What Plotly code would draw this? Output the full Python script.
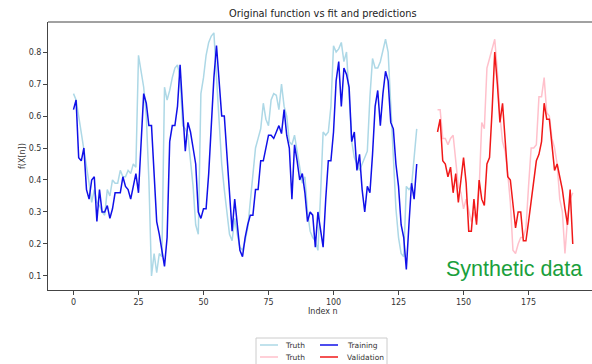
import numpy as np
import plotly.graph_objects as go

# Truth and fitted values on the training window (index 0..132)
truth_train = [0.67, 0.65, 0.60, 0.55, 0.50, 0.44, 0.39, 0.33, 0.37, 0.33,
               0.32, 0.30, 0.29, 0.37, 0.35, 0.40, 0.39, 0.39, 0.43, 0.41,
               0.41, 0.43, 0.42, 0.45, 0.44, 0.79, 0.74, 0.69, 0.60, 0.40,
               0.10, 0.17, 0.11, 0.17, 0.16, 0.69, 0.65, 0.68, 0.72, 0.75,
               0.76, 0.72, 0.57, 0.56, 0.54, 0.47, 0.38, 0.26, 0.23, 0.67,
               0.72, 0.79, 0.83, 0.85, 0.86, 0.72, 0.58, 0.45, 0.37, 0.30,
               0.23, 0.21, 0.28, 0.23, 0.19, 0.18, 0.21, 0.25, 0.33, 0.42,
               0.50, 0.53, 0.56, 0.64, 0.59, 0.57, 0.65, 0.67, 0.665, 0.62,
               0.70, 0.63, 0.60, 0.52, 0.51, 0.54, 0.49, 0.44, 0.39, 0.41,
               0.30, 0.24, 0.22, 0.21, 0.18, 0.35, 0.55, 0.54, 0.55, 0.63,
               0.82, 0.80, 0.81, 0.83, 0.77, 0.80, 0.64, 0.52, 0.47, 0.45,
               0.43, 0.45, 0.47, 0.49, 0.66, 0.78, 0.75, 0.75, 0.77, 0.81,
               0.84, 0.80, 0.62, 0.44, 0.31, 0.22, 0.17, 0.16, 0.38, 0.37,
               0.38, 0.47, 0.56]
training = [0.62, 0.65, 0.47, 0.46, 0.50, 0.37, 0.34, 0.40, 0.41, 0.27,
            0.37, 0.30, 0.30, 0.32, 0.28, 0.31, 0.36, 0.36, 0.36, 0.41,
            0.38, 0.37, 0.34, 0.38, 0.42, 0.36, 0.52, 0.67, 0.64, 0.57,
            0.57, 0.42, 0.27, 0.23, 0.18, 0.13, 0.22, 0.52, 0.57, 0.57,
            0.63, 0.76, 0.62, 0.49, 0.58, 0.55, 0.50, 0.45, 0.30, 0.28,
            0.31, 0.31, 0.42, 0.58, 0.72, 0.82, 0.70, 0.60, 0.60, 0.49,
            0.37, 0.24, 0.34, 0.25, 0.18, 0.16, 0.22, 0.26, 0.29, 0.29,
            0.37, 0.37, 0.46, 0.46, 0.50, 0.54, 0.54, 0.53, 0.55, 0.57,
            0.545, 0.62, 0.54, 0.50, 0.34, 0.51, 0.46, 0.40, 0.42, 0.36,
            0.27, 0.30, 0.29, 0.19, 0.30, 0.25, 0.19, 0.34, 0.46, 0.46,
            0.55, 0.71, 0.77, 0.63, 0.75, 0.73, 0.69, 0.52, 0.55, 0.43,
            0.48, 0.37, 0.30, 0.38, 0.36, 0.48, 0.63, 0.68, 0.57, 0.67,
            0.74, 0.71, 0.58, 0.56, 0.45, 0.38, 0.26, 0.22, 0.12, 0.26,
            0.39, 0.34, 0.45]

# Truth and predictions on the validation window (index 140..192)
val_start = 140
truth_val = [0.62, 0.62, 0.53, 0.53, 0.51, 0.53, 0.54, 0.45, 0.38, 0.36,
             0.31, 0.34, 0.30, 0.27, 0.30, 0.27, 0.37, 0.58, 0.56, 0.75,
             0.78, 0.81, 0.84, 0.74, 0.60, 0.52, 0.49, 0.42, 0.33, 0.18,
             0.17, 0.20, 0.22, 0.22, 0.25, 0.38, 0.50, 0.50, 0.51, 0.66,
             0.66, 0.72, 0.61, 0.60, 0.53, 0.50, 0.45, 0.34, 0.30, 0.17,
             0.28, 0.34, 0.36]
validation = [0.55, 0.59, 0.46, 0.45, 0.41, 0.44, 0.36, 0.42, 0.33, 0.40,
              0.47, 0.39, 0.24, 0.24, 0.34, 0.26, 0.40, 0.34, 0.32, 0.45,
              0.47, 0.62, 0.80, 0.70, 0.58, 0.64, 0.52, 0.41, 0.40, 0.33,
              0.25, 0.30, 0.30, 0.21, 0.21, 0.27, 0.33, 0.40, 0.46, 0.48,
              0.52, 0.64, 0.59, 0.59, 0.51, 0.43, 0.45, 0.41, 0.37, 0.31,
              0.26, 0.37, 0.20]

x_ticks = [0, 25, 50, 75, 100, 125, 150, 175]
y_ticks = [0.1, 0.2, 0.3, 0.4, 0.5, 0.6, 0.7, 0.8]

series_names = ["Truth", "Training", "Truth", "Validation"]
series_colors = ["#add8e6", "#1010e8", "#ffc0cb", "#f01818"]

train_idx = np.arange(len(training))
val_idx = val_start + np.arange(len(validation))

FONT = "DejaVu Sans"
W, H = 592, 364
ML, MR, MT, MB = 48, 0, 22, 74
PW, PH = W - ML - MR, H - MT - MB


def px_x(p):
    return (p - ML) / PW


def px_y(p):
    return (H - MB - p) / PH


fig = go.Figure()
series = [(train_idx, truth_train), (train_idx, training),
          (val_idx, truth_val), (val_idx, validation)]
for (xs, ys), name, color in zip(series, series_names, series_colors):
    fig.add_trace(go.Scatter(x=xs, y=ys, mode="lines", name=name,
                             line=dict(color=color, width=1.5), showlegend=False))

axis_common = dict(showline=True, linecolor="#444", linewidth=1, mirror=False,
                   showgrid=False, zeroline=False, ticks="outside", ticklen=4,
                   tickcolor="#444", tickfont=dict(family=FONT, size=8, color="#333"))

fig.update_xaxes(range=[-9.8, 199.4], tickvals=x_ticks, **axis_common)
fig.update_yaxes(range=[0.056, 0.894], tickvals=y_ticks, tickformat=".1f", **axis_common)

shapes = [
    # top spine of the axes frame
    dict(type="line", xref="paper", yref="paper", x0=0, x1=1, y0=1, y1=1,
         line=dict(color="#444", width=1)),
    # legend frame
    dict(type="rect", xref="paper", yref="paper",
         x0=px_x(256), x1=px_x(387), y0=px_y(338), y1=px_y(372),
         line=dict(color="#cccccc", width=1), fillcolor="white"),
]
annotations = [
    dict(text="Original function vs fit and predictions", xref="paper", yref="paper",
         x=px_x(322.5), y=px_y(14), xanchor="center", yanchor="middle",
         showarrow=False, font=dict(family=FONT, size=9.8, color="#222")),
    dict(text="Index n", xref="paper", yref="paper",
         x=px_x(322.5), y=px_y(311), xanchor="center", yanchor="middle",
         showarrow=False, font=dict(family=FONT, size=8, color="#333")),
    dict(text="f(X[n])", xref="paper", yref="paper", textangle=-90,
         x=px_x(22), y=px_y(156), xanchor="center", yanchor="middle",
         showarrow=False, font=dict(family=FONT, size=8, color="#333")),
    dict(text="Synthetic data", xref="paper", yref="paper",
         x=px_x(444), y=px_y(269), xanchor="left", yanchor="middle",
         showarrow=False, font=dict(family="Liberation Sans", size=21.5, color="#1aa03c")),
]

# Two-column legend: (line start, text start) per column, row centres
legend_cols = [(260, 283), (320, 345)]
legend_rows = [345, 357]
legend_slots = [(0, 0), (0, 1), (1, 0), (1, 1)]  # (row, col) of each series
for (r, c), name, color in zip(legend_slots, series_names, series_colors):
    lx, tx = legend_cols[c]
    ry = legend_rows[r]
    shapes.append(dict(type="line", xref="paper", yref="paper",
                       x0=px_x(lx), x1=px_x(lx + 18), y0=px_y(ry), y1=px_y(ry),
                       line=dict(color=color, width=1.5)))
    annotations.append(dict(text=name, xref="paper", yref="paper",
                            x=px_x(tx), y=px_y(ry), xanchor="left", yanchor="middle",
                            showarrow=False,
                            font=dict(family=FONT, size=7.5, color="#333")))

fig.update_layout(
    width=W, height=H,
    margin=dict(l=ML, r=MR, t=MT, b=MB, autoexpand=False),
    paper_bgcolor="white", plot_bgcolor="white",
    showlegend=False,
    shapes=shapes,
    annotations=annotations,
)

fig.write_html("out.html")
